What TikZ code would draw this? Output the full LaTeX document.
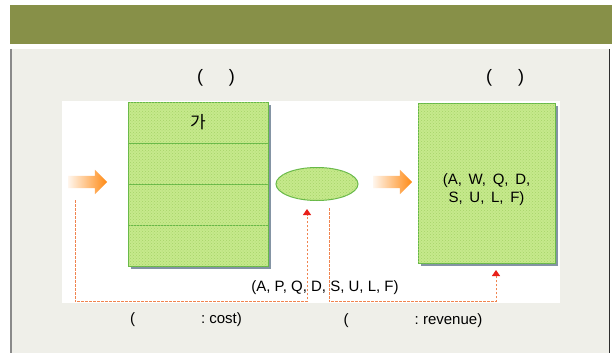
\documentclass[tikz,border=0pt]{standalone}
\usepackage{fontspec}
\setmainfont{Liberation Sans}
\newfontfamily\krfont{Noto Sans CJK KR}
\usetikzlibrary{arrows.meta,positioning,shapes.geometric,shapes.arrows,patterns}
\definecolor{barolive}{HTML}{879048}
\definecolor{panelgray}{HTML}{EFEFE9}
\definecolor{panelleft}{HTML}{8A8A8A}
\definecolor{panelright}{HTML}{2E2E2E}
\definecolor{leaf}{HTML}{C6E98C}
\definecolor{leafline}{HTML}{66B848}
\definecolor{leafdot}{HTML}{A6D468}
\definecolor{shadowgray}{HTML}{8494A4}
\definecolor{arrorange}{HTML}{FF8A14}
\definecolor{dashsalmon}{HTML}{F0844F}
\definecolor{tipred}{HTML}{E8201A}

\begin{document}
\begin{tikzpicture}[x=1pt,y=-1pt,
  font=\fontsize{15}{18}\selectfont,
  cell/.style={draw=leafline,line width=1pt,fill=leaf,outer sep=0pt,
               postaction={pattern=crosshatch dots,pattern color=leafdot},
               minimum width=140pt,minimum height=41pt,inner sep=0pt},
  bigarrow/.style={single arrow,minimum height=39pt,inner xsep=0pt,inner ysep=6pt,
                   single arrow head extend=6pt,draw=none,
                   left color=arrorange!8,right color=arrorange},
  flowdash/.style={draw=dashsalmon,line width=1pt,dash pattern=on 2.5pt off 1.5pt,
                   -{Triangle[length=6pt,width=8pt,color=tipred]}},
  headlbl/.style={font=\fontsize{18}{20}\selectfont},
]
\useasboundingbox (0,0) rectangle (612,353);

% page frame
\fill[white] (0,0) rectangle (612,353);
\fill[barolive] (10,5) rectangle (612,44);
\fill[panelgray] (10,49) rectangle (610,353);
\draw[panelleft,line width=1.5pt] (10.75,49) -- (10.75,353);
\draw[panelright,line width=1.5pt] (609.25,49) -- (609.25,353);
\node[fill=white,minimum width=498pt,minimum height=202pt,inner sep=0pt] (stage) at (311,201.5) {};

% headings
\node[headlbl] (lefthead) at (216,78) {(\hspace{26pt})};
\node[headlbl] (righthead) at (505,78) {(\hspace{26pt})};

% table of inputs
\fill[shadowgray] (131,105) rectangle (271,269);
\node[cell] (r1) at (198,122.5) {\krfont\fontsize{17}{20}\selectfont 가};
\node[cell,below=0pt of r1] (r2) {};
\node[cell,below=0pt of r2] (r3) {};
\node[cell,below=0pt of r3] (r4) {};

% selection and result
\node[ellipse,draw=leafline,line width=1pt,fill=leaf,
      postaction={pattern=crosshatch dots,pattern color=leafdot},
      minimum width=82pt,minimum height=33pt] (sel) at (317,184) {};
\fill[shadowgray] (421,106) rectangle (558,266);
\node[cell,minimum width=137pt,minimum height=160pt] (res) at (486.5,183) {};
\node[align=center] (restxt) at (486.5,190)
  {(A,~\,W,~\,Q,~\,D,\\S,~\,U,~\,L,~\,F)};

\node[bigarrow] (inarr) at (84.5,182) {};
\node[bigarrow] (outarr) at (389.5,182) {};

% feedback links
\coordinate (costtop) at (75,200);
\coordinate (costtip) at ([xshift=-10pt,yshift=-8pt]sel.south);
\coordinate (revtop) at ([xshift=12pt,yshift=-7pt]sel.south);
\coordinate (revtip) at ([xshift=9.5pt,yshift=-7pt]res.south);
\draw[flowdash] (costtop) |- ([yshift=1pt]stage.south -| costtip) -- (costtip);
\draw[flowdash] (revtop) |- ([yshift=1pt]stage.south -| revtip) -- (revtip);

\node (keyset) at (325,288) {(A, P, Q, D, S, U, L, F)};
\node (costlbl) at (186,320) {(\hspace{66pt}:~cost)};
\node (revlbl) at (413,321) {(\hspace{66pt}:~revenue)};
\end{tikzpicture}
\end{document}
